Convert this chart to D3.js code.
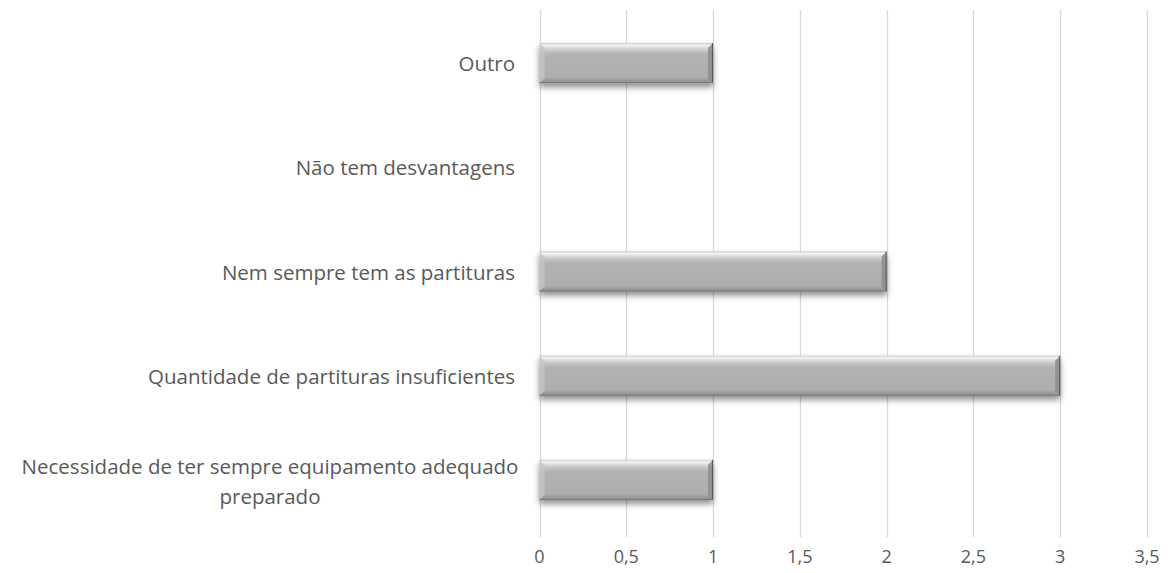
<!DOCTYPE html>
<html><head><meta charset="utf-8">
<script src="https://cdn.jsdelivr.net/npm/d3@7"></script>
<style>body{margin:0;background:#fff}svg{display:block}</style>
</head><body>
<script>
const categories = ["Necessidade de ter sempre equipamento adequado|preparado","Quantidade de partituras insuficientes","Nem sempre tem as partituras","Não tem desvantagens","Outro"];
const values = [1,3,2,0,1];
const tickValues = [0,0.5,1,1.5,2,2.5,3,3.5];

const W=1170,H=573;
const svg=d3.select("body").append("svg").attr("width",W).attr("height",H);
const x=d3.scaleLinear().domain([0,3.5]).range([539.5,1147]);
const y=d3.scaleBand().domain(categories).range([532,11]).paddingInner(0.615).paddingOuter(0.3075);

const defs=svg.append("defs");
const g1=defs.append("linearGradient").attr("id","bg").attr("x1",0).attr("y1",0).attr("x2",0).attr("y2",1);
g1.append("stop").attr("offset","0").attr("stop-color","#c8c8c8");
g1.append("stop").attr("offset","0.05").attr("stop-color","#f4f4f4");
g1.append("stop").attr("offset","0.15").attr("stop-color","#d0d0d0");
g1.append("stop").attr("offset","0.28").attr("stop-color","#b3b3b3");
g1.append("stop").attr("offset","0.85").attr("stop-color","#aeaeae");
g1.append("stop").attr("offset","1").attr("stop-color","#8a8a8a");
const f=defs.append("filter").attr("id","sh").attr("x","-5%").attr("y","-30%").attr("width","110%").attr("height","170%");
f.append("feGaussianBlur").attr("in","SourceAlpha").attr("stdDeviation",3);
f.append("feOffset").attr("dx",0).attr("dy",4).attr("result","o");
f.append("feComponentTransfer").append("feFuncA").attr("type","linear").attr("slope",0.45);
const m=f.append("feMerge");m.append("feMergeNode");m.append("feMergeNode").attr("in","SourceGraphic");

// grid
svg.append("g").selectAll("line").data(tickValues).join("line")
 .attr("x1",d=>Math.round(x(d))+0.5).attr("x2",d=>Math.round(x(d))+0.5)
 .attr("y1",10).attr("y2",537).attr("stroke","#d9d9d9").attr("stroke-width",1.3);

// tick labels
svg.append("g").selectAll("text").data(tickValues).join("text")
 .attr("x",d=>x(d)).attr("y",563).attr("text-anchor","middle")
 .attr("font-family","Open Sans, sans-serif").attr("font-size",18).attr("fill","#595959")
 .text(d=>String(d).replace(".",","));

// bars
const bars=svg.append("g").selectAll("g").data(categories.map((c,i)=>({c,v:values[i]})).filter(d=>d.v>0)).join("g");
bars.each(function(d){
  const gg=d3.select(this);
  const x0=x(0),x1=x(d.v),y0=y(d.c),h=y.bandwidth(),b=5;
  gg.append("rect").attr("x",x0).attr("y",y0).attr("width",x1-x0).attr("height",h).attr("fill","url(#bg)").attr("filter","url(#sh)");
  gg.append("polygon").attr("points",`${x0},${y0} ${x0+b},${y0+b} ${x0+b},${y0+h-b} ${x0},${y0+h}`).attr("fill","#c4c4c4").attr("opacity",0.8);
  gg.append("polygon").attr("points",`${x1},${y0} ${x1-b},${y0+b} ${x1-b},${y0+h-b} ${x1},${y0+h}`).attr("fill","#8c8c8c").attr("opacity",0.85);
  gg.append("line").attr("x1",x1-0.5).attr("x2",x1-0.5).attr("y1",y0).attr("y2",y0+h).attr("stroke","#555").attr("stroke-width",1);
  gg.append("line").attr("x1",x0).attr("x2",x1).attr("y1",y0+h-0.5).attr("y2",y0+h-0.5).attr("stroke","#7a7a7a").attr("stroke-width",1);
});

// category labels
const lab=svg.append("g").selectAll("text").data(categories).join("text")
 .attr("font-family","Open Sans, sans-serif").attr("font-size",20.5).attr("fill","#595959")
 .attr("text-anchor",d=>d.includes("|")?"middle":"end");
lab.each(function(d){
  const t=d3.select(this);const parts=d.split("|");const cy=y(d)+y.bandwidth()/2;
  if(parts.length===1){t.attr("x",515).attr("y",cy+8).text(d);}
  else{parts.forEach((p,i)=>t.append("tspan").attr("x",270).attr("y",cy-6+i*30).text(p));}
});
</script>
</body></html>
